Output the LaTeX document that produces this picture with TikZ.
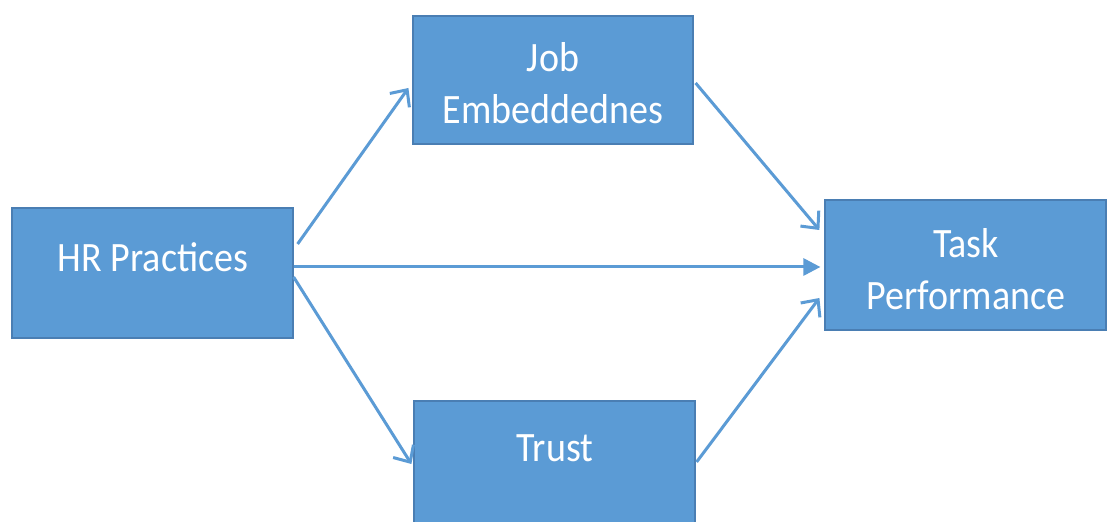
\documentclass[tikz,border=0pt]{standalone}
\usepackage{fontspec}
\setmainfont{Carlito}
\usetikzlibrary{arrows.meta,calc}
\definecolor{boxfill}{HTML}{5B9BD5}
\definecolor{boxline}{HTML}{4A7EB3}
\definecolor{arrowc}{HTML}{5B9BD5}
\newcommand{\tallt}[1]{\scalebox{1}[1.1]{\begin{tabular}{@{}c@{}}#1\end{tabular}}}
\tikzset{
  box/.style={draw=boxline, line width=1.2pt, fill=boxfill, rectangle, inner sep=0pt},
  boxtext/.style={text=white, font=\fontsize{38}{47}\selectfont, inner sep=0pt},
  barb/.style={draw=arrowc, line width=3pt, -{Straight Barb[length=13pt,width=24pt,line width=3pt]}},
  tri/.style={draw=arrowc, line width=3pt, -{Triangle[length=17pt,width=17pt]}}
}
\begin{document}
\begin{tikzpicture}[x=1pt,y=1pt]
\useasboundingbox (0,0) rectangle (1112,522);
\fill[white] (0,0) rectangle (1112,522);
\node[box, minimum width=281pt, minimum height=130pt] (hr) at (152.5,249) {};
\node[box, minimum width=280pt, minimum height=128pt] (job) at (553,442) {};
\node[box, minimum width=281pt, minimum height=129pt] (trust) at (554.5,56.5) {};
\node[box, minimum width=281pt, minimum height=130pt] (task) at (965.5,257) {};
\node[boxtext, anchor=base] (hrT) at (153,250) {\scalebox{1}[1.1]{HR Practices}};
\node[boxtext, anchor=base] (trustT) at (555,60) {\scalebox{1}[1.1]{Trust}};
\node[boxtext, anchor=center] (jobT) at (553,435) {\tallt{Job\\Embeddednes}};
\node[boxtext, anchor=center] (taskT) at (966,249) {\tallt{Task\\Performance}};
\draw[barb] ([shift={(4,29)}]hr.east) -- ([shift={(-4,-8)}]job.west);
\draw[tri] ([shift={(0,6)}]hr.east) -- ([shift={(-4,-2)}]task.west);
\draw[barb] ([shift={(0,-4)}]hr.east) -- ([shift={(-2,1.5)}]trust.west);
\draw[barb] ([shift={(2,-3)}]job.east) -- ([shift={(-5,35)}]task.west);
\draw[barb] ([shift={(1,3.5)}]trust.east) -- ([shift={(-5,-33)}]task.west);
\end{tikzpicture}
\end{document}
